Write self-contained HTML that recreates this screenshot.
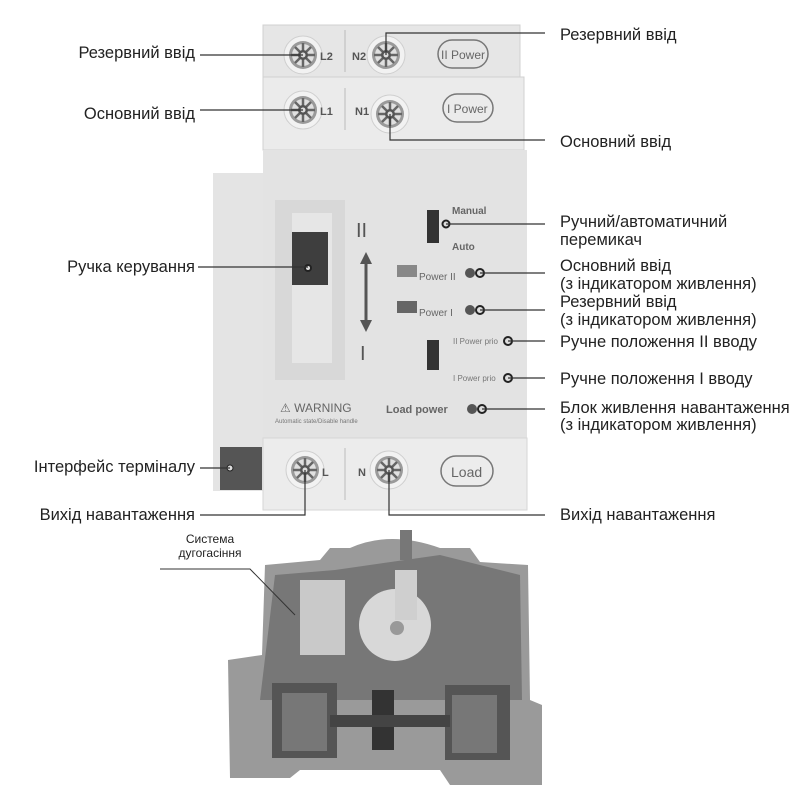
<!DOCTYPE html>
<html><head><meta charset="utf-8"><style>
html,body{margin:0;padding:0;background:#fff;}
svg{display:block}
text{font-family:"Liberation Sans","DejaVu Sans",sans-serif;}
</style></head><body>
<svg width="800" height="800" viewBox="0 0 800 800" xmlns="http://www.w3.org/2000/svg">
<defs>
<g id="screw">
<circle r="19" fill="#f2f2f2" stroke="#cfcfcf"/>
<circle r="14" fill="#9a9a9a"/>
<circle r="11" fill="#e0e0e0"/>
<g stroke="#666" stroke-width="2.5">
<line x1="-12" y1="0" x2="12" y2="0"/><line x1="0" y1="-12" x2="0" y2="12"/>
<line x1="-8" y1="-8" x2="8" y2="8"/><line x1="-8" y1="8" x2="8" y2="-8"/>
</g>
<circle r="5" fill="#555"/><circle r="2.5" fill="#ddd"/>
</g>
</defs>
<rect x="213" y="173" width="52" height="318" fill="#e4e4e4"/>
<rect x="220" y="447" width="42" height="43" fill="#555"/>
<circle cx="230" cy="468" r="3" fill="#ddd" stroke="#222"/>
<rect x="263" y="25" width="257" height="52" fill="#e6e6e6" stroke="#d0d0d0"/>
<rect x="263" y="77" width="261" height="73" fill="#ebebeb" stroke="#d0d0d0"/>
<rect x="263" y="150" width="264" height="288" fill="#e3e3e3"/>
<rect x="263" y="438" width="264" height="72" fill="#ececec" stroke="#d6d6d6"/>
<line x1="345" y1="30" x2="345" y2="72" stroke="#bbb"/>
<line x1="345" y1="88" x2="345" y2="130" stroke="#bbb"/>
<line x1="345" y1="448" x2="345" y2="500" stroke="#bbb"/>
<use href="#screw" x="303" y="55"/><use href="#screw" x="386" y="55"/>
<use href="#screw" x="303" y="110"/><use href="#screw" x="390" y="114"/>
<use href="#screw" x="305" y="470"/><use href="#screw" x="389" y="470"/>
<g font-size="11" fill="#555" font-weight="bold">
<text x="320" y="60">L2</text><text x="352" y="60">N2</text>
<text x="320" y="115">L1</text><text x="355" y="115">N1</text>
<text x="322" y="476">L</text><text x="358" y="476">N</text>
</g>
<rect x="438" y="40" width="50" height="28" rx="14" fill="none" stroke="#777" stroke-width="1.5"/>
<text x="441" y="59" font-size="12" fill="#666">II Power</text>
<rect x="443" y="94" width="50" height="28" rx="14" fill="none" stroke="#777" stroke-width="1.5"/>
<text x="447" y="113" font-size="12" fill="#666">I Power</text>
<rect x="441" y="456" width="52" height="30" rx="15" fill="none" stroke="#777" stroke-width="1.5"/>
<text x="451" y="477" font-size="14" fill="#666">Load</text>
<rect x="275" y="200" width="70" height="180" fill="#d8d8d8"/>
<rect x="292" y="213" width="40" height="150" fill="#e6e6e6"/>
<rect x="292" y="232" width="36" height="53" fill="#3e3e3e"/>
<text x="356" y="237" font-family="Liberation Serif" font-size="20" fill="#555">II</text>
<text x="360" y="360" font-family="Liberation Serif" font-size="20" fill="#555">I</text>
<line x1="366" y1="262" x2="366" y2="322" stroke="#555" stroke-width="3"/>
<polygon points="360,264 366,252 372,264" fill="#555"/><polygon points="360,320 366,332 372,320" fill="#555"/>
<text x="280" y="412" font-size="12" fill="#666">⚠ WARNING</text>
<text x="275" y="423" font-size="6" fill="#777">Automatic state/Disable handle</text>
<rect x="427" y="210" width="12" height="33" fill="#333"/>
<text x="452" y="214" font-size="10" fill="#666" font-weight="bold">Manual</text>
<text x="452" y="250" font-size="10" fill="#666" font-weight="bold">Auto</text>
<rect x="397" y="265" width="20" height="12" fill="#888"/>
<text x="419" y="280" font-size="10" fill="#666">Power II</text>
<rect x="397" y="301" width="20" height="12" fill="#666"/>
<text x="419" y="316" font-size="10" fill="#666">Power I</text>
<rect x="427" y="340" width="12" height="30" fill="#333"/>
<text x="453" y="344" font-size="8" fill="#777">II Power prio</text>
<text x="453" y="381" font-size="8" fill="#777">I Power prio</text>
<text x="386" y="413" font-size="11" fill="#666" font-weight="bold">Load power</text>
<g fill="#555"><circle cx="470" cy="273" r="5"/><circle cx="470" cy="310" r="5"/><circle cx="472" cy="409" r="5"/></g>
<g fill="#ddd" stroke="#222" stroke-width="2">
<circle cx="446" cy="224" r="3.5"/><circle cx="480" cy="273" r="4"/><circle cx="480" cy="310" r="4"/>
<circle cx="508" cy="341" r="4"/><circle cx="508" cy="378" r="4"/><circle cx="482" cy="409" r="4"/>
<circle cx="308" cy="268" r="3"/>
</g>
<g stroke="#333" stroke-width="1.2" fill="none">
<polyline points="200,55 303,55"/>
<polyline points="200,110 303,110"/>
<polyline points="198,267 308,267"/>
<polyline points="200,468 230,468"/>
<polyline points="200,515 305,515 305,470"/>
<polyline points="386,55 386,33 545,33"/>
<polyline points="390,114 390,140 545,140"/>
<polyline points="446,224 545,224"/>
<polyline points="480,273 545,273"/>
<polyline points="480,310 545,310"/>
<polyline points="508,341 545,341"/>
<polyline points="508,378 545,378"/>
<polyline points="482,409 545,409"/>
<polyline points="389,470 389,515 545,515"/>
</g>
<g font-size="16.5" fill="#222">
<text x="195" y="58" text-anchor="end">Резервний ввід</text>
<text x="195" y="119" text-anchor="end">Основний ввід</text>
<text x="195" y="272" text-anchor="end">Ручка керування</text>
<text x="195" y="472" text-anchor="end">Інтерфейс терміналу</text>
<text x="195" y="520" text-anchor="end">Вихід навантаження</text>
<text x="560" y="40">Резервний ввід</text>
<text x="560" y="147">Основний ввід</text>
<text x="560" y="227">Ручний/автоматичний</text>
<text x="560" y="245">перемикач</text>
<text x="560" y="271">Основний ввід</text>
<text x="560" y="289">(з індикатором живлення)</text>
<text x="560" y="307">Резервний ввід</text>
<text x="560" y="325">(з індикатором живлення)</text>
<text x="560" y="347">Ручне положення II вводу</text>
<text x="560" y="384">Ручне положення I вводу</text>
<text x="560" y="413">Блок живлення навантаження</text>
<text x="560" y="430">(з індикатором живлення)</text>
<text x="560" y="520">Вихід навантаження</text>
</g>
<path d="M265,565 L320,560 L330,548 L350,548 Q390,530 440,548 L470,548 L480,562 L528,565 L530,700 L542,705 L542,785 L450,785 L440,770 L300,770 L290,778 L230,778 L228,660 L262,655 Z" fill="#9a9a9a"/>
<path d="M275,575 L335,570 L440,555 L520,575 L522,700 L260,700 Z" fill="#777"/>
<rect x="300" y="580" width="45" height="75" fill="#c9c9c9"/>
<circle cx="395" cy="625" r="36" fill="#d8d8d8"/>
<rect x="395" y="570" width="22" height="50" fill="#cfcfcf"/>
<circle cx="397" cy="628" r="7" fill="#999"/>
<rect x="400" y="530" width="12" height="30" fill="#777"/>
<rect x="272" y="683" width="65" height="75" fill="#555"/>
<rect x="282" y="693" width="45" height="58" fill="#777"/>
<rect x="445" y="685" width="65" height="75" fill="#555"/>
<rect x="452" y="695" width="45" height="58" fill="#777"/>
<rect x="372" y="690" width="22" height="60" fill="#333"/>
<rect x="330" y="715" width="120" height="12" fill="#444"/>
<text x="210" y="543" font-size="12" fill="#222" text-anchor="middle">Система</text>
<text x="210" y="557" font-size="12" fill="#222" text-anchor="middle">дугогасіння</text>
<polyline points="160,569 250,569 295,615" stroke="#333" stroke-width="1" fill="none"/>
</svg>
</body></html>
